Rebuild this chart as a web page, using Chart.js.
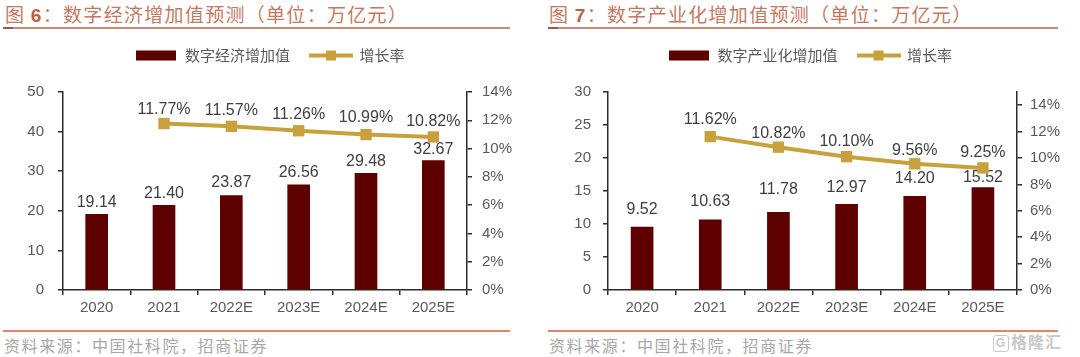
<!DOCTYPE html>
<html>
<head>
<meta charset="utf-8">
<script src="https://cdn.jsdelivr.net/npm/chart.js@4/dist/chart.umd.min.js"></script>
<style>
  html, body { margin: 0; padding: 0; background: #fff; }
  body { width: 1080px; height: 357px; position: relative; overflow: hidden; font-family: "Noto Sans CJK SC", sans-serif; }
  .title { position: absolute; top: 1px; font-size: 19px; letter-spacing: 1.3px; color: #c27a62; white-space: nowrap; line-height: 26px; }
  .title b { font-family: "Liberation Sans", Arial, sans-serif; font-weight: bold; color: #b8624a; }
  .tline { position: absolute; top: 27px; height: 1.5px; background: #cf8b74; }
  .tmark { position: absolute; top: 27px; height: 2px; width: 10px; background: #9a5a48; }
  .sline { position: absolute; top: 330px; height: 1.5px; background: #e8806a; }
  .src { position: absolute; top: 333px; font-size: 16px; letter-spacing: 1.6px; color: #a8a8a8; white-space: nowrap; line-height: 24px; }
  .wrap { position: absolute; top: 28px; width: 540px; height: 297px; }
  .wm { position: absolute; left: 993px; top: 331px; height: 20px; font-size: 16px; font-weight: bold; color: #c9c9c9; line-height: 20px; letter-spacing: 1px; }
  .wm span { display: inline-block; border: 1.5px solid #c9c9c9; border-radius: 3px; width: 14px; height: 15px; line-height: 15px; font-size: 12px; text-align: center; vertical-align: 1px; margin-right: 2px; font-family: "Liberation Sans", Arial, sans-serif; }
</style>
</head>
<body>
<div class="title" style="left:5px;">图 <b>6</b>：数字经济增加值预测（单位：万亿元）</div>
<div class="tline" style="left:3px; width:507px;"></div>
<div class="tmark" style="left:3px;"></div>
<div class="title" style="left:549px;">图 <b>7</b>：数字产业化增加值预测（单位：万亿元）</div>
<div class="tline" style="left:548px; width:510px;"></div>
<div class="tmark" style="left:548px;"></div>

<div class="wrap" style="left:0px;"><canvas id="c1" width="540" height="297"></canvas></div>
<div class="wrap" style="left:540px;"><canvas id="c2" width="540" height="297"></canvas></div>

<div class="sline" style="left:3px; width:507px;"></div>
<div class="sline" style="left:548px; width:510px;"></div>
<div class="src" style="left:4px;">资料来源：中国社科院，招商证券</div>
<div class="src" style="left:549px;">资料来源：中国社科院，招商证券</div>
<div class="wm"><span>G</span>格隆汇</div>

<script>
// ---- Data ----
const categories = ['2020', '2021', '2022E', '2023E', '2024E', '2025E'];

const digitalEconomyValue = [19.14, 21.40, 23.87, 26.56, 29.48, 32.67];
const digitalEconomyGrowth = [null, 11.77, 11.57, 11.26, 10.99, 10.82];

const digitalIndustryValue = [9.52, 10.63, 11.78, 12.97, 14.20, 15.52];
const digitalIndustryGrowth = [null, 11.62, 10.82, 10.10, 9.56, 9.25];

const leftTicks1 = [0, 10, 20, 30, 40, 50];
const rightTicks1 = [0, 2, 4, 6, 8, 10, 12, 14];
const leftTicks2 = [0, 5, 10, 15, 20, 25, 30];
const rightTicks2 = [0, 2, 4, 6, 8, 10, 12, 14];

// ---- Styles ----
const COL_BAR = '#5e0000';
const COL_LINE = '#c8a13d';
const COL_AXIS = '#2b2b2b';
const COL_TICK = '#595959';
const COL_LABEL = '#404040';
const NUM_FONT = '"Liberation Sans", Arial, sans-serif';
const CJK_FONT = '"Noto Sans CJK SC", sans-serif';

function barSwatch() {
  const c = document.createElement('canvas');
  c.width = 40; c.height = 12;
  const x = c.getContext('2d');
  x.fillStyle = COL_BAR;
  x.fillRect(0, 1, 40, 10);
  return c;
}
function lineSwatch() {
  const c = document.createElement('canvas');
  c.width = 44; c.height = 12;
  const x = c.getContext('2d');
  x.strokeStyle = COL_LINE;
  x.lineWidth = 4;
  x.beginPath(); x.moveTo(0, 6); x.lineTo(44, 6); x.stroke();
  x.fillStyle = COL_LINE;
  x.fillRect(17, 1, 10, 10);
  return c;
}
const SW_BAR = barSwatch();
const SW_LINE = lineSwatch();

const valueLabels = {
  id: 'valueLabels',
  afterDatasetDraw(chart, args, opts) {
    const cfg = opts.sets && opts.sets[args.index];
    if (!cfg) return;
    const ds = chart.data.datasets[args.index];
    const ctx = chart.ctx;
    ctx.save();
    ctx.font = '16px ' + NUM_FONT;
    ctx.fillStyle = COL_LABEL;
    ctx.textAlign = 'center';
    ctx.textBaseline = 'middle';
    args.meta.data.forEach((el, i) => {
      const v = ds.data[i];
      if (v === null || v === undefined) return;
      ctx.fillText(cfg.fmt(v), el.x, el.y - cfg.offsets[i]);
    });
    ctx.restore();
  }
};

const legendHeight = {
  id: 'legendHeight',
  beforeInit(chart, args, opts) {
    const orig = chart.legend.fit;
    chart.legend.fit = function () {
      orig.bind(chart.legend)();
      this.height = opts.height;
    };
  }
};

function makeChart(id, cfg) {
  const axisGrid = { display: true, drawOnChartArea: false, drawTicks: true, tickLength: 5, color: COL_AXIS, lineWidth: 1.5 };
  const axisBorder = { display: true, color: COL_AXIS, width: 1.5 };
  return new Chart(document.getElementById(id), {
    data: {
      labels: categories,
      datasets: [
        {
          type: 'bar', label: cfg.barLabel, data: cfg.bars, yAxisID: 'y',
          backgroundColor: COL_BAR, barThickness: 22, order: 2
        },
        {
          type: 'line', label: '增长率', data: cfg.line, yAxisID: 'y1',
          borderColor: COL_LINE, backgroundColor: COL_LINE, borderWidth: 4,
          pointStyle: 'rect', pointRadius: 8, pointHoverRadius: 8, pointBorderWidth: 0,
          pointBackgroundColor: COL_LINE, tension: 0, order: 1
        }
      ]
    },
    options: {
      responsive: false,
      animation: false,
      events: [],
      layout: { padding: 0 },
      plugins: {
        tooltip: { enabled: false },
        legendHeight: { height: 64 },
        legend: {
          display: true, position: 'top', align: 'center',
          labels: {
            usePointStyle: true, pointStyleWidth: 42, padding: 20,
            font: { size: 15, family: CJK_FONT }, color: COL_TICK,
            generateLabels: () => [
              { text: cfg.barLabel, pointStyle: SW_BAR, fillStyle: COL_BAR, strokeStyle: COL_BAR, lineWidth: 0, datasetIndex: 0, fontColor: COL_TICK },
              { text: '增长率', pointStyle: SW_LINE, fillStyle: COL_LINE, strokeStyle: COL_LINE, lineWidth: 0, datasetIndex: 1, fontColor: COL_TICK }
            ]
          }
        },
        valueLabels: {
          sets: {
            0: { offsets: cfg.barOffsets, fmt: v => v.toFixed(2) },
            1: { offsets: cfg.lineOffsets, fmt: v => v.toFixed(2) + '%' }
          }
        }
      },
      scales: {
        x: {
          type: 'category', offset: true,
          grid: Object.assign({}, axisGrid, { offset: true }),
          border: axisBorder,
          ticks: { font: { size: 15, family: NUM_FONT }, color: COL_TICK, padding: 4, maxRotation: 0, autoSkip: false },
          afterFit: s => { s.height = 35; }
        },
        y: {
          type: 'linear', position: 'left', min: cfg.leftTicks[0], max: cfg.leftTicks[cfg.leftTicks.length - 1],
          grid: axisGrid, border: axisBorder,
          afterBuildTicks: s => { s.ticks = cfg.leftTicks.map(v => ({ value: v })); },
          ticks: { font: { size: 15, family: NUM_FONT }, color: COL_TICK, padding: cfg.leftPad },
          afterFit: s => { s.width = cfg.leftWidth; }
        },
        y1: {
          type: 'linear', position: 'right', min: 0, max: cfg.rightMax,
          grid: axisGrid, border: axisBorder,
          afterBuildTicks: s => { s.ticks = cfg.rightTicks.map(v => ({ value: v })); },
          ticks: { font: { size: 15, family: NUM_FONT }, color: COL_TICK, padding: cfg.rightPad, callback: v => v + '%' },
          afterFit: s => { s.width = cfg.rightWidth; }
        }
      }
    },
    plugins: [valueLabels, legendHeight]
  });
}

makeChart('c1', {
  barLabel: '数字经济增加值',
  bars: digitalEconomyValue,
  line: digitalEconomyGrowth,
  leftTicks: leftTicks1,
  rightTicks: rightTicks1,
  rightMax: 14,
  leftWidth: 63, rightWidth: 73,
  leftPad: 14, rightPad: 10,
  barOffsets: [12, 12, 13, 12, 12, 11],
  lineOffsets: [0, 14, 16, 16, 17, 15]
});

makeChart('c2', {
  barLabel: '数字产业化增加值',
  bars: digitalIndustryValue,
  line: digitalIndustryGrowth,
  leftTicks: leftTicks2,
  rightTicks: rightTicks2,
  rightMax: 15,
  leftWidth: 68, rightWidth: 63,
  leftPad: 12, rightPad: 8,
  barOffsets: [18, 18, 23, 17, 18, 10],
  lineOffsets: [0, 17, 14, 15, 13, 15]
});
</script>
</body>
</html>
